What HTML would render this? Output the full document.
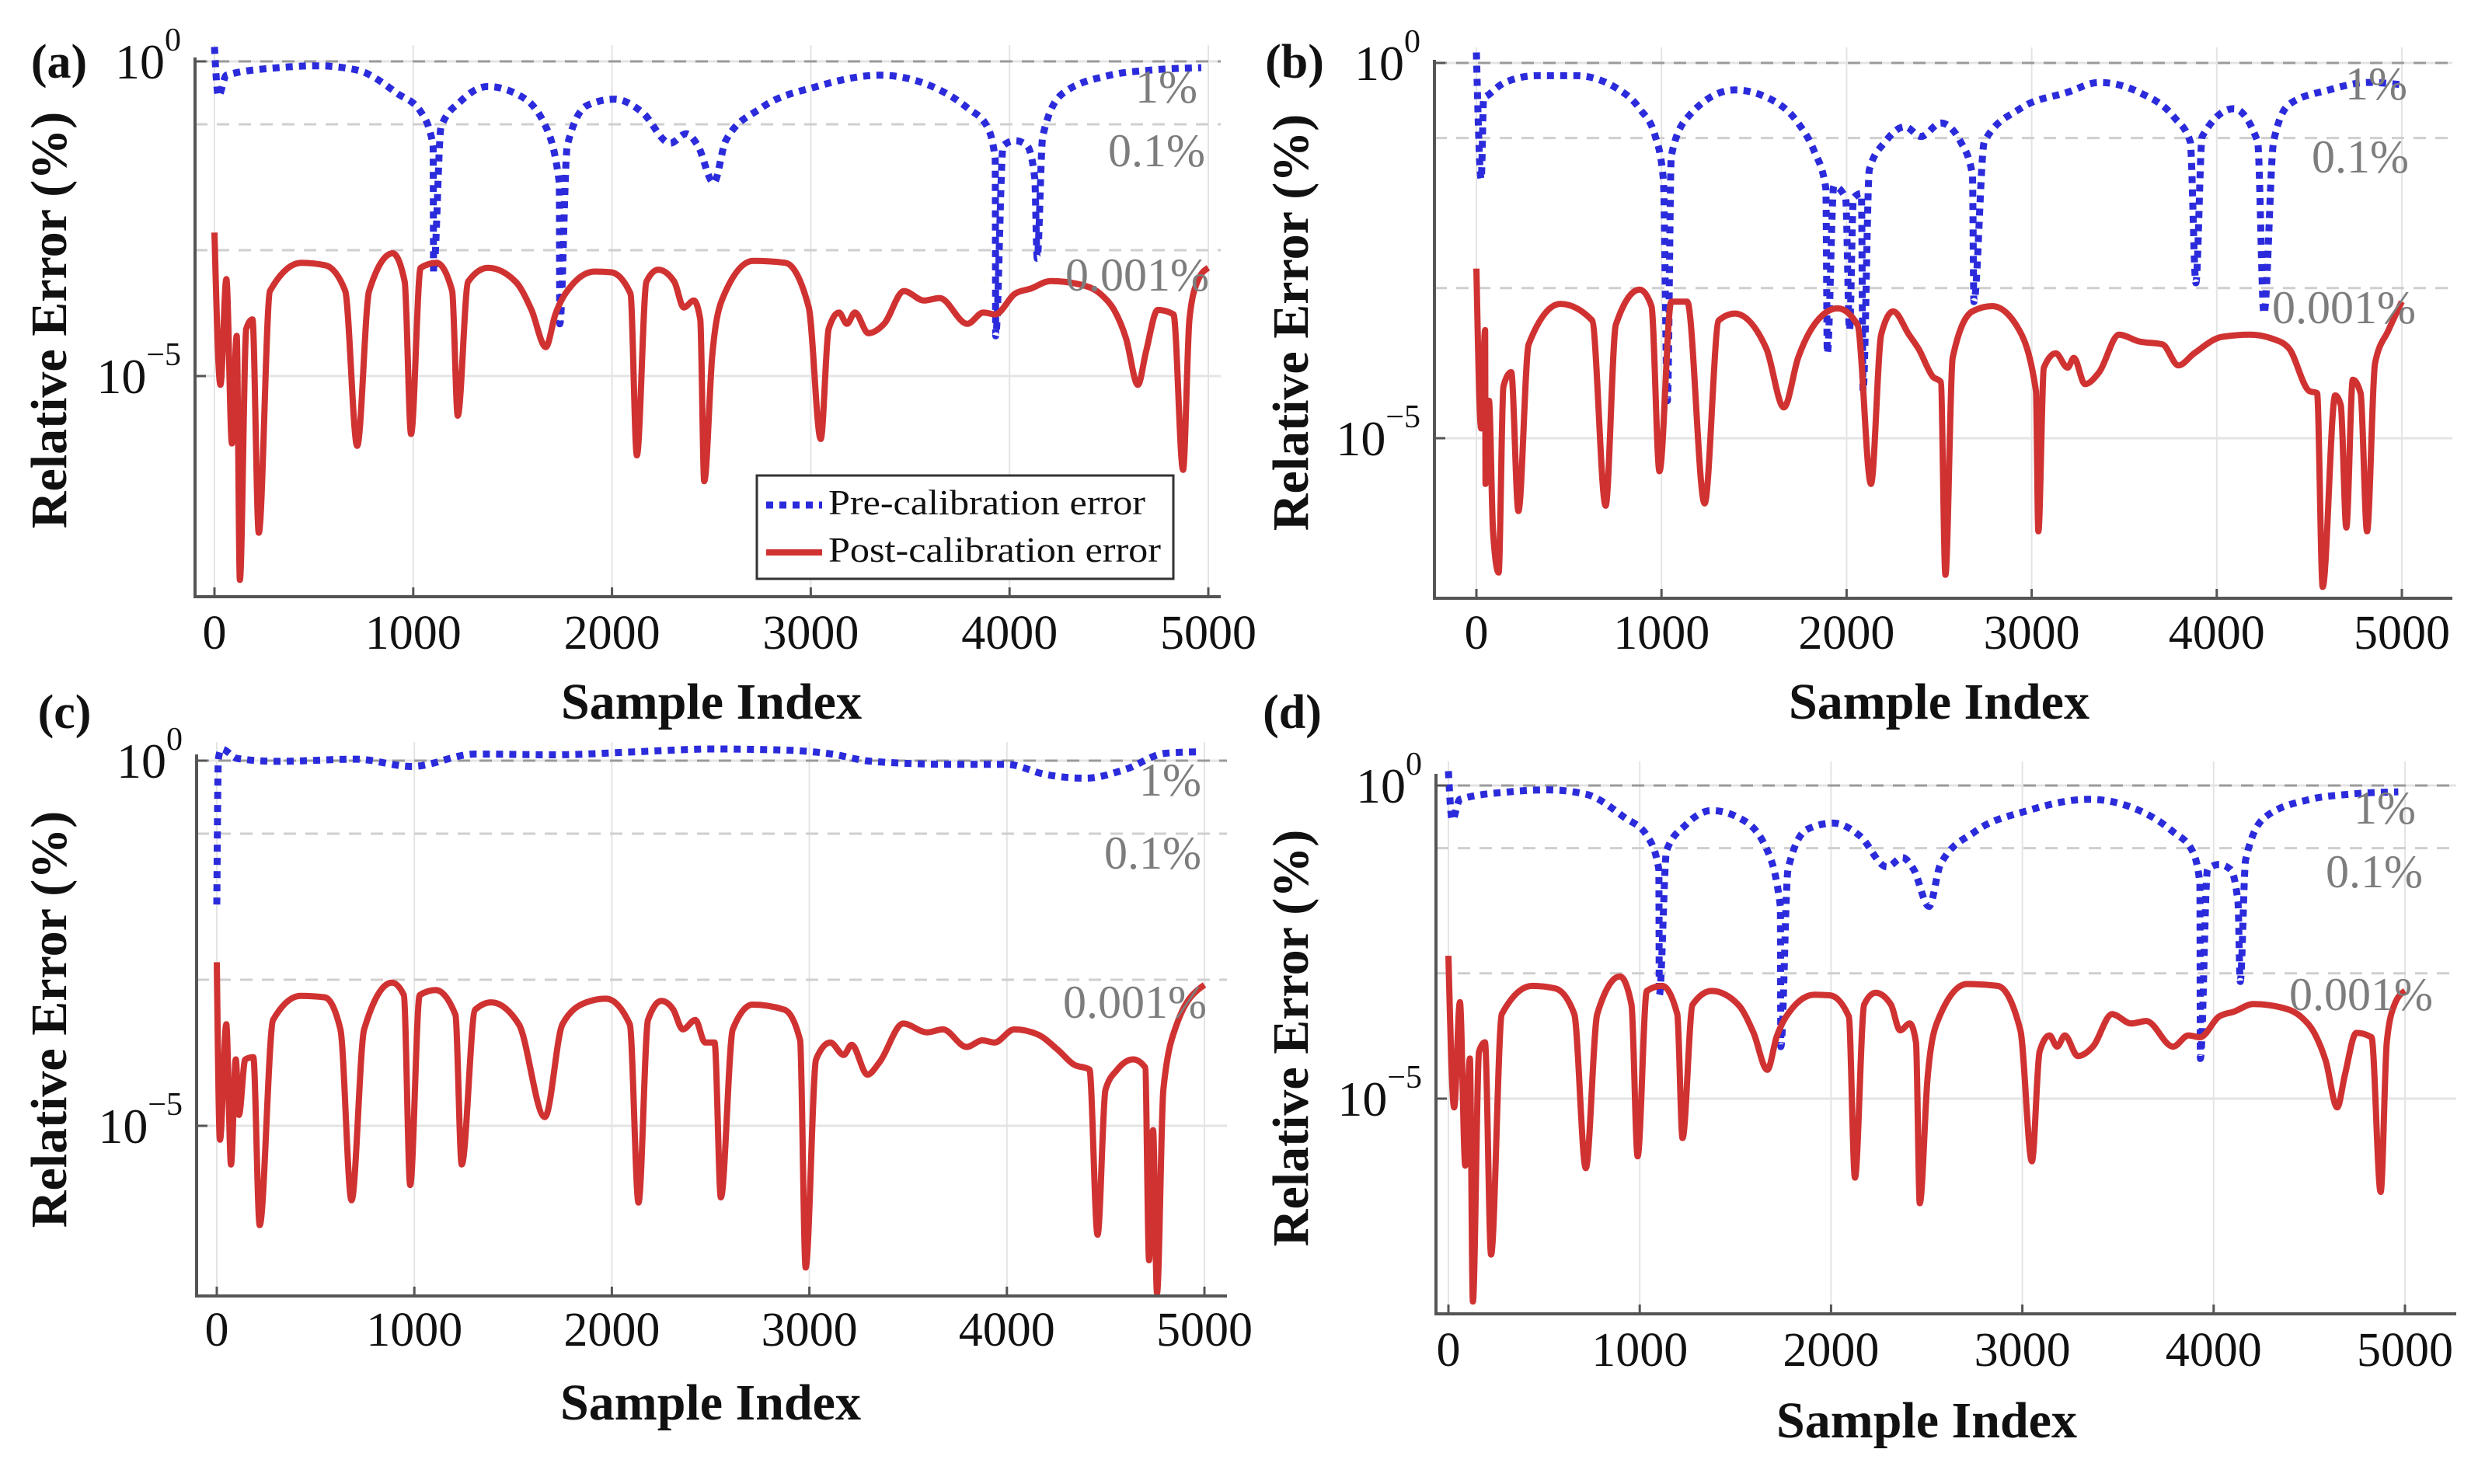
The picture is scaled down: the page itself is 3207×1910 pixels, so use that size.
<!DOCTYPE html>
<html><head><meta charset="utf-8"><style>
html,body{margin:0;padding:0;background:#fff;}
svg{display:block;font-family:"Liberation Serif",serif;}
</style></head><body>
<svg id="fig" width="3207" height="1910" viewBox="0 0 3207 1910" xmlns="http://www.w3.org/2000/svg"></svg>
<script>
// ---- data: sample index and log10(relative error) ----
const xPreA=[0,20,60,320,520,720,920,1040,1100,1100,1140,1240,1375,1515,1655,1735,1735,1775,1875,2013,2153,2293,2373,2432,2512,2572,2751,3030,3349,3589,3788,3888,3928,3928,3968,4028,4088,4127,4139,4167,4267,4506,4705,4965];
const logPreA=[0.23,-0.55,-0.22,-0.10,-0.07,-0.14,-0.51,-0.81,-1.34,-3.35,-1.04,-0.63,-0.40,-0.51,-0.96,-1.93,-4.17,-1.34,-0.70,-0.60,-0.81,-1.30,-1.15,-1.34,-1.93,-1.26,-0.74,-0.40,-0.22,-0.37,-0.74,-1.04,-1.56,-4.36,-1.34,-1.26,-1.34,-1.86,-3.13,-1.19,-0.51,-0.22,-0.14,-0.10];
const xPostA=[0,30,60,88,112,128,160,191,223,279,439,558,658,718,778,897,957,989,1037,1117,1196,1224,1276,1376,1515,1595,1667,1715,1794,1914,1994,2093,2125,2173,2233,2313,2361,2412,2444,2464,2504,2552,2711,2871,2990,3050,3090,3142,3182,3222,3290,3369,3469,3569,3648,3788,3868,3928,4028,4107,4207,4347,4466,4526,4586,4646,4686,4746,4825,4873,4905,4945,5000];
const logPostA=[-2.72,-5.14,-3.46,-6.07,-4.36,-8.24,-4.25,-4.10,-7.49,-3.65,-3.20,-3.24,-3.65,-6.11,-3.65,-3.05,-3.50,-5.92,-3.28,-3.20,-3.65,-5.63,-3.50,-3.28,-3.50,-3.95,-4.54,-4.02,-3.57,-3.34,-3.35,-3.69,-6.26,-3.50,-3.31,-3.50,-3.91,-3.80,-4.10,-6.67,-4.69,-3.80,-3.17,-3.20,-3.91,-6.00,-4.25,-3.99,-4.17,-3.99,-4.32,-4.17,-3.65,-3.80,-3.76,-4.17,-3.99,-4.02,-3.69,-3.61,-3.49,-3.54,-3.72,-3.95,-4.40,-5.14,-4.62,-3.95,-4.02,-6.49,-4.10,-3.50,-3.28];
const xPreB=[0,26,39,68,154,325,539,753,882,967,1010,1032,1053,1139,1396,1610,1738,1824,1888,1896,1931,1995,2016,2037,2080,2089,2123,2209,2316,2402,2509,2616,2680,2688,2744,2937,3194,3365,3579,3772,3857,3887,3921,4092,4221,4255,4307,4392,4606,4820,5000];
const logPreB=[0.14,-1.55,-0.48,-0.42,-0.26,-0.17,-0.17,-0.33,-0.61,-0.98,-1.55,-4.50,-1.24,-0.73,-0.36,-0.51,-0.80,-1.17,-1.67,-3.87,-1.64,-1.80,-3.56,-1.80,-1.74,-4.37,-1.42,-1.05,-0.85,-0.98,-0.80,-1.05,-1.49,-3.18,-1.05,-0.61,-0.39,-0.26,-0.39,-0.73,-1.05,-2.93,-0.98,-0.61,-1.05,-3.34,-1.05,-0.55,-0.36,-0.26,-0.29];
const xPostB=[0,26,47,47,68,90,120,146,188,227,282,454,625,698,753,882,946,989,1053,1139,1233,1310,1396,1567,1661,1738,1866,1952,2059,2132,2187,2252,2337,2389,2466,2509,2534,2573,2680,2787,2916,3023,3036,3066,3130,3194,3228,3288,3365,3472,3579,3707,3793,3878,4028,4178,4307,4392,4499,4542,4572,4640,4670,4700,4735,4777,4812,4855,4928,5000];
const logPostB=[-2.74,-4.87,-3.56,-5.61,-4.50,-6.24,-6.79,-4.31,-4.12,-5.97,-3.75,-3.21,-3.43,-5.90,-3.49,-3.02,-3.24,-5.44,-3.18,-3.18,-5.87,-3.43,-3.34,-3.81,-4.59,-3.93,-3.37,-3.27,-3.49,-5.61,-3.62,-3.31,-3.62,-3.81,-4.18,-4.25,-6.82,-3.93,-3.31,-3.24,-3.49,-4.37,-6.24,-4.06,-3.87,-4.06,-3.93,-4.28,-4.12,-3.62,-3.71,-3.75,-4.03,-3.87,-3.65,-3.62,-3.68,-3.81,-4.37,-4.40,-6.98,-4.43,-4.56,-6.19,-4.22,-4.40,-6.24,-4.00,-3.56,-3.18];
const xPreC=[0,8,24,104,305,706,987,1308,1709,2110,2512,2913,3114,3315,3716,3997,4197,4398,4599,4799,4960];
const logPreC=[-1.97,0.02,0.16,0.03,-0.01,0.02,-0.08,0.09,0.08,0.12,0.16,0.14,0.09,-0.01,-0.05,-0.05,-0.19,-0.24,-0.12,0.10,0.12];
const xPostC=[0,16,48,72,96,112,144,185,217,285,425,546,626,682,746,887,947,979,1027,1108,1208,1240,1308,1389,1529,1661,1750,1870,1970,2091,2135,2183,2251,2311,2359,2423,2472,2520,2552,2612,2713,2873,2953,2981,3034,3106,3174,3214,3294,3355,3475,3596,3676,3796,3876,3937,4037,4157,4258,4338,4418,4459,4499,4559,4639,4700,4720,4740,4760,4792,4860,5000];
const logPostC=[-2.76,-5.19,-3.61,-5.53,-4.09,-4.85,-4.09,-4.06,-6.36,-3.55,-3.22,-3.24,-3.68,-6.02,-3.68,-3.04,-3.21,-5.81,-3.21,-3.14,-3.48,-5.53,-3.41,-3.31,-3.61,-4.88,-3.61,-3.31,-3.26,-3.61,-6.05,-3.55,-3.29,-3.41,-3.68,-3.55,-3.86,-3.86,-5.98,-3.68,-3.34,-3.41,-3.83,-6.94,-4.09,-3.86,-4.03,-3.89,-4.30,-4.13,-3.60,-3.72,-3.68,-3.92,-3.83,-3.86,-3.68,-3.75,-3.96,-4.16,-4.23,-6.49,-4.51,-4.23,-4.09,-4.20,-6.84,-5.06,-7.29,-4.51,-3.61,-3.07];
const xPreD=xPreA.slice(), logPreD=logPreA.slice();
const xPostD=xPostA.slice(), logPostD=logPostA.slice();
const xTicks=[0,1000,2000,3000,4000,5000];
const xTickLabels=["0","1000","2000","3000","4000","5000"];
const refLevels=[0,-1,-3];
const refLabels=["1%","0.1%","0.001%"];
const yMajor=[0,-5];

const NS="http://www.w3.org/2000/svg";
const svg=document.getElementById('fig');
function mk(tag,attrs,parent){const e=document.createElementNS(NS,tag);for(const k in attrs)e.setAttribute(k,attrs[k]);(parent||svg).appendChild(e);return e;}

// monotone cubic path through pixel points
function monoPath(P){
  const n=P.length;
  for(let i=1;i<n;i++){if(P[i][0]<=P[i-1][0]+0.6)P[i][0]=P[i-1][0]+0.6;}
  if(n<3)return 'M'+P.map(p=>p.join(',')).join('L');
  const h=[],s=[];
  for(let i=0;i<n-1;i++){h[i]=P[i+1][0]-P[i][0];s[i]=(P[i+1][1]-P[i][1])/h[i];}
  const t=new Array(n);
  for(let i=1;i<n-1;i++){
    const p=(s[i-1]*h[i]+s[i]*h[i-1])/(h[i-1]+h[i]);
    t[i]=(Math.sign(s[i-1])+Math.sign(s[i]))*Math.min(Math.abs(s[i-1]),Math.abs(s[i]),0.5*Math.abs(p))||0;
  }
  t[0]=h[0]?(3*s[0]-t[1])/2:0; t[n-1]=(3*s[n-2]-t[n-2])/2;
  let d='M'+P[0][0].toFixed(1)+','+P[0][1].toFixed(1);
  for(let i=0;i<n-1;i++){
    const dx=h[i]/3;
    d+='C'+(P[i][0]+dx).toFixed(1)+','+(P[i][1]+dx*t[i]).toFixed(1)+' '+(P[i+1][0]-dx).toFixed(1)+','+(P[i+1][1]-dx*t[i+1]).toFixed(1)+' '+P[i+1][0].toFixed(1)+','+P[i+1][1].toFixed(1);
  }
  return d;
}

const panels=[
 {id:'a',axL:251,x0:276,x1:1555,right:1571,top:58,y0:79,dec:81,bottom:768,tickY:835,titleY:925,ylabX:63,ylabY:412,labX:76,labY:100,pre:[xPreA,logPreA],post:[xPostA,logPostA],refR:[1541,1551,1556],refB:[132,214,374],legend:true},
 {id:'b',axL:1846,x0:1900,x1:3091,right:3156,top:61,y0:81,dec:96.6,bottom:770,tickY:835,titleY:925,ylabX:1661,ylabY:415,labX:1666,labY:100,pre:[xPreB,logPreB],post:[xPostB,logPostB],refR:[3098,3100,3109],refB:[128,222,416]},
 {id:'c',axL:253,x0:279,x1:1550,right:1579,top:955,y0:979,dec:94,bottom:1668,tickY:1732,titleY:1827,ylabX:63,ylabY:1312,labX:83,labY:937,pre:[xPreC,logPreC],post:[xPostC,logPostC],refR:[1546,1546,1553],refB:[1024,1118,1310]},
 {id:'d',axL:1848,x0:1864,x1:3095,right:3161,top:980,y0:1011,dec:80.6,bottom:1691,tickY:1758,titleY:1850,ylabX:1661,ylabY:1336,labX:1663,labY:937,pre:[xPreD,logPreD],post:[xPostD,logPostD],refR:[3109,3118,3131],refB:[1060,1142,1300]}
];

panels.forEach(p=>{
  const g=mk('g',{});
  
  
  const xs=v=>p.x0+(v-xTicks[0])/(xTicks[5]-xTicks[0])*(p.x1-p.x0);
  const ys=l=>p.y0-l*p.dec;
  xTicks.forEach(t=>{const l=mk('line',{x1:xs(t),x2:xs(t),y1:p.top,y2:p.bottom,stroke:'#e4e4e4','stroke-width':2},g);
    });
  yMajor.forEach(t=>{const l=mk('line',{x1:p.axL,x2:p.right,y1:ys(t),y2:ys(t),stroke:'#e4e4e4','stroke-width':3},g);
    });
  refLevels.forEach((t,i)=>{const l=mk('line',{x1:p.axL,x2:p.right,y1:ys(t),y2:ys(t),stroke:i==0?'#9a9a9a':'#cfcfcf','stroke-width':3,'stroke-dasharray':'16 12'},g);
    });
  function path(arr){return monoPath(arr[0].map((x,i)=>[xs(x),ys(arr[1][i])]));}
  const pre=mk('path',{d:path(p.pre),fill:'none',stroke:'#2b2bdc','stroke-width':9,'stroke-dasharray':'9 8','stroke-linejoin':'round'},g);
  
  const post=mk('path',{d:path(p.post),fill:'none',stroke:'#d03232','stroke-width':8,'stroke-linejoin':'round'},g);
  
  refLabels.forEach((s,i)=>{const t=mk('text',{x:p.refR[i],y:p.refB[i],'text-anchor':'end','font-size':60,fill:'#7d7d7d'},g);t.textContent=s;
    });
  const ax=mk('path',{d:`M${p.axL},${p.top+16}V${p.bottom}H${p.right}`,fill:'none',stroke:'#555','stroke-width':4},g);
  
  xTicks.forEach((t,i)=>{mk('line',{x1:xs(t),x2:xs(t),y1:p.bottom,y2:p.bottom-12,stroke:'#555','stroke-width':3},g);
    const tx=mk('text',{x:xs(t),y:p.tickY,'text-anchor':'middle','font-size':62,fill:'#111'},g);tx.textContent=xTickLabels[i];
    });
  yMajor.forEach(t=>{mk('line',{x1:p.axL,x2:p.axL+14,y1:ys(t),y2:ys(t),stroke:'#555','stroke-width':3},g);
    const tx=mk('text',{x:p.axL-18,y:ys(t)+22,'text-anchor':'end','font-size':64,fill:'#111'},g);
    
    const a=mk('tspan',{},tx);a.textContent='10';
    const b=mk('tspan',{'font-size':42,dy:-36},tx);b.textContent=String(t).replace('-','\u2212');});
  const xt=mk('text',{x:(p.x0+p.x1)/2,y:p.titleY,'text-anchor':'middle','font-size':66,'font-weight':'bold',fill:'#111'},g);
  xt.textContent='Sample Index';
  const yt=mk('text',{x:0,y:0,'text-anchor':'middle','font-size':66,'font-weight':'bold',fill:'#111',transform:`translate(${p.ylabX+22},${p.ylabY}) rotate(-90)`},g);
  yt.textContent='Relative Error (%)';
  const pl=mk('text',{x:p.labX,y:p.labY,'text-anchor':'middle','font-size':62,'font-weight':'bold',fill:'#111'},g);
  pl.textContent='('+p.id+')';
  if(p.legend){
    const lg=mk('g',{},g);
    
    mk('rect',{x:974,y:612,width:536,height:133,fill:'#fff',stroke:'#333','stroke-width':3},lg);
    const l1=mk('line',{x1:986,x2:1058,y1:650,y2:650,stroke:'#2b2bdc','stroke-width':9,'stroke-dasharray':'9 8'},lg);
    
    const t1=mk('text',{x:1066,y:662,'font-size':46,fill:'#111',textLength:408,lengthAdjust:'spacingAndGlyphs'},lg);t1.textContent='Pre-calibration error';
    
    const l2=mk('line',{x1:986,x2:1058,y1:711,y2:711,stroke:'#d03232','stroke-width':8},lg);
    
    const t2=mk('text',{x:1066,y:723,'font-size':46,fill:'#111',textLength:428,lengthAdjust:'spacingAndGlyphs'},lg);t2.textContent='Post-calibration error';
    
  }
});
</script>
</body></html>
